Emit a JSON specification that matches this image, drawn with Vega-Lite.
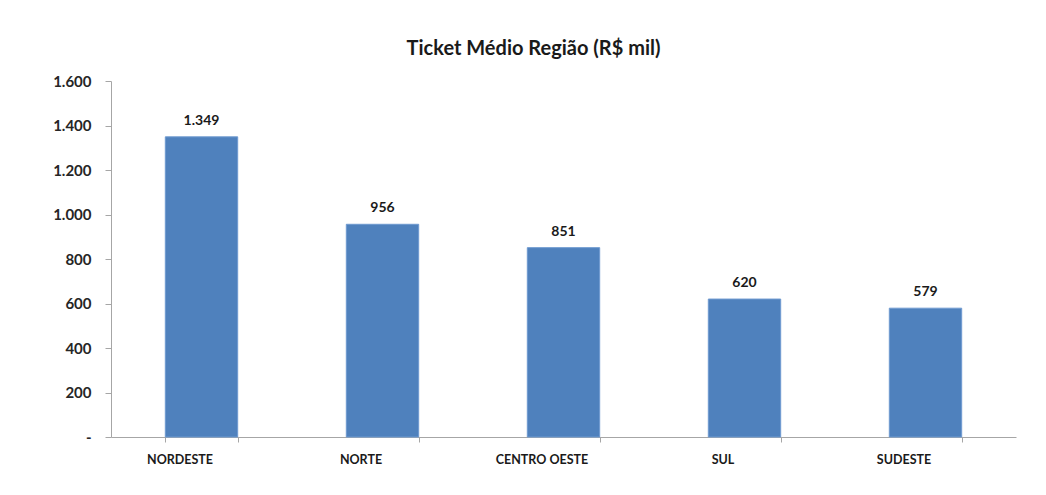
{
  "$schema": "https://vega.github.io/schema/vega-lite/v6.json",
  "width": 905,
  "height": 356,
  "autosize": {"type": "none"},
  "padding": {"left": 111, "top": 81, "right": 30, "bottom": 58},
  "background": "white",
  "config": {
    "locale": {"number": {"decimal": ",", "thousands": ".", "grouping": [3], "currency": ["R$", ""]}},
    "view": {"stroke": null}
  },
  "title": {
    "text": "Ticket Médio Região (R$ mil)",
    "font": "Lato",
    "fontSize": 20,
    "fontWeight": "bold",
    "color": "#1a1a1a",
    "anchor": "middle",
    "offset": 15,
    "dx": -30
  },
  "data": {
    "values": [
      {"regiao": "NORDESTE", "ticket": 1349},
      {"regiao": "NORTE", "ticket": 956},
      {"regiao": "CENTRO OESTE", "ticket": 851},
      {"regiao": "SUL", "ticket": 620},
      {"regiao": "SUDESTE", "ticket": 579}
    ]
  },
  "encoding": {
    "x": {
      "field": "regiao",
      "type": "nominal",
      "sort": null,
      "scale": {"paddingInner": 0.6, "paddingOuter": 0.3},
      "axis": {
        "title": null,
        "labelAngle": 0,
        "tickBand": "extent",
        "tickSize": 5,
        "tickColor": "#A6A6A6",
        "domainColor": "#A6A6A6",
        "labelPadding": 11,
        "labelOffset": -22,
        "labelFont": "Lato",
        "labelFontSize": 12.5,
        "labelFontWeight": "bold",
        "labelColor": "#1a1a1a"
      }
    },
    "y": {
      "field": "ticket",
      "type": "quantitative",
      "scale": {"domain": [0, 1600], "nice": false},
      "axis": {
        "title": null,
        "grid": false,
        "values": [0, 200, 400, 600, 800, 1000, 1200, 1400, 1600],
        "format": ",d",
        "labelExpr": "datum.value == 0 ? '-' : datum.label",
        "tickSize": 6,
        "tickColor": "#A6A6A6",
        "domainColor": "#A6A6A6",
        "labelPadding": 14,
        "labelFont": "Lato",
        "labelFontSize": 15,
        "labelFontWeight": "bold",
        "labelColor": "#262626"
      }
    }
  },
  "layer": [
    {"mark": {"type": "bar", "color": "#4F81BD", "stroke": "#6F9AD0", "strokeWidth": 1}},
    {
      "mark": {"type": "text", "baseline": "bottom", "dy": -9, "font": "Lato", "fontSize": 14, "fontWeight": "bold", "color": "#1a1a1a"},
      "encoding": {"text": {"field": "ticket", "type": "quantitative", "format": ",d"}}
    }
  ]
}
